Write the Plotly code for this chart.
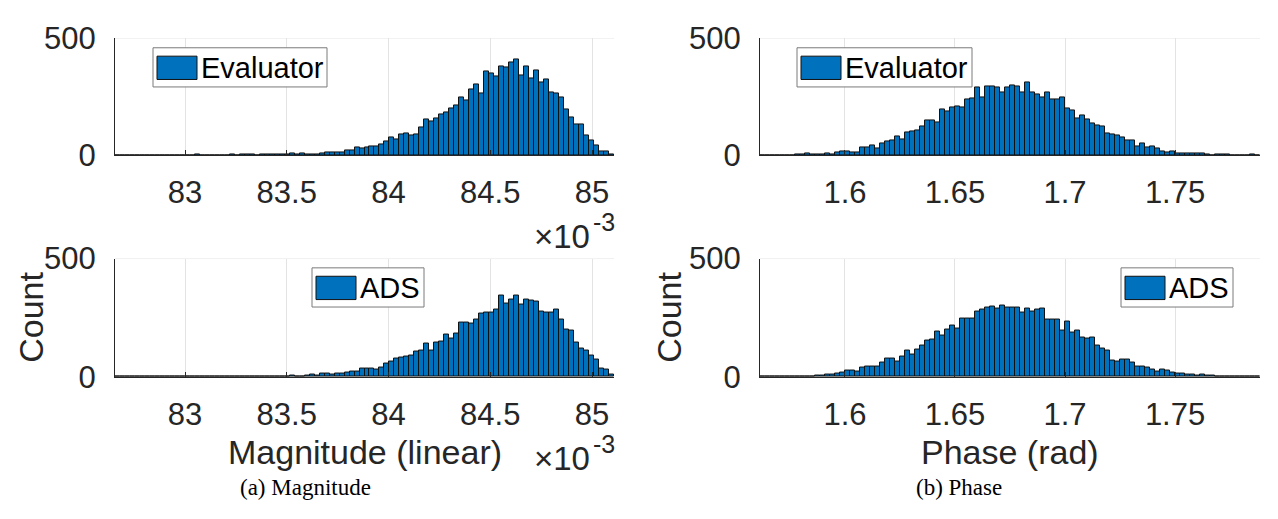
import numpy as np
import plotly.graph_objects as go

# Histogram counts (100 equal-width bins per panel)
mag_eval_counts = [
    0, 0, 0, 0, 0, 0, 0, 0, 0, 0,
    0, 0, 0, 0, 0, 0, 2, 0, 0, 0,
    0, 0, 0, 1, 0, 1, 3, 1, 0, 2,
    1, 2, 2, 3, 3, 7, 3, 7, 4, 4,
    4, 8, 11, 13, 12, 12, 20, 20, 32, 28,
    34, 35, 37, 44, 58, 74, 66, 87, 94, 84,
    90, 118, 151, 142, 158, 174, 182, 198, 212, 245,
    232, 281, 302, 265, 359, 352, 339, 382, 375, 397,
    409, 343, 378, 328, 362, 310, 326, 268, 264, 248,
    196, 161, 131, 131, 82, 64, 40, 17, 17, 4,
]
mag_ads_counts = [
    0, 0, 0, 0, 0, 0, 0, 0, 0, 0,
    0, 0, 0, 1, 0, 0, 1, 0, 0, 1,
    0, 1, 0, 0, 1, 1, 0, 1, 1, 2,
    1, 2, 1, 2, 3, 4, 3, 1, 7, 11,
    7, 13, 13, 11, 14, 13, 20, 22, 25, 37,
    34, 37, 30, 41, 57, 66, 79, 83, 86, 89,
    109, 113, 142, 113, 146, 151, 179, 164, 184, 230,
    230, 224, 241, 266, 271, 274, 284, 343, 311, 326,
    342, 305, 326, 324, 320, 276, 271, 274, 283, 241,
    201, 195, 145, 120, 113, 89, 74, 37, 30, 12,
]
phase_eval_counts = [
    0, 0, 0, 0, 0, 0, 0, 1, 1, 7,
    3, 4, 1, 5, 1, 11, 16, 16, 13, 13,
    34, 34, 43, 28, 51, 58, 63, 78, 68, 98,
    100, 107, 122, 149, 149, 138, 194, 189, 202, 210,
    205, 237, 243, 289, 248, 295, 295, 291, 269, 291,
    299, 296, 267, 310, 269, 261, 245, 267, 239, 239,
    245, 198, 192, 157, 168, 151, 137, 127, 123, 94,
    88, 84, 75, 64, 64, 38, 48, 31, 36, 28,
    17, 12, 17, 7, 8, 5, 7, 7, 7, 4,
    0, 3, 1, 1, 0, 0, 0, 0, 1, 0,
]
phase_ads_counts = [
    0, 0, 0, 0, 0, 0, 1, 0, 1, 1,
    3, 4, 5, 11, 9, 13, 20, 26, 26, 24,
    38, 43, 46, 46, 59, 76, 76, 67, 87, 113,
    96, 116, 133, 153, 157, 192, 175, 200, 218, 204,
    247, 247, 247, 276, 283, 293, 299, 287, 300, 292,
    292, 292, 270, 287, 276, 283, 287, 243, 243, 243,
    197, 232, 188, 195, 167, 161, 168, 133, 121, 112,
    70, 67, 74, 74, 61, 42, 42, 39, 33, 24,
    30, 28, 20, 14, 16, 11, 9, 7, 9, 5,
    4, 2, 1, 1, 1, 0, 0, 1, 0, 0,
]

# Sample range covered by the bins of each quantity
mag_range = [0.082656, 0.085108]
phase_range = [1.5614, 1.7886]

mag_tickvals = [0.083, 0.0835, 0.084, 0.0845, 0.085]
mag_ticktext = ["83", "83.5", "84", "84.5", "85"]
phase_tickvals = [1.6, 1.65, 1.7, 1.75]
phase_ticktext = ["1.6", "1.65", "1.7", "1.75"]
count_tickvals = [0, 500]
count_range = [0, 500]

series_names = ["Evaluator", "ADS"]
x_titles = ["Magnitude (linear)", "Phase (rad)"]
captions = ["(a) Magnitude", "(b) Phase"]

W, H = 1278, 519
BAR_COLOR = "#0072BD"
AX_COLOR = "#262626"
GRID_COLOR = "#E3E3E3"
SANS = "Liberation Sans, Arial, Helvetica, sans-serif"
SERIF = "Liberation Serif, DejaVu Serif, serif"


def px_x(p):
    return p / W


def px_y(p):
    return 1 - p / H


# Axes boxes in pixels: (left, right, top, bottom)
boxes = {
    "tl": (115, 614, 23, 148),
    "tr": (760, 1260, 23, 148),
    "bl": (115, 614, 259, 386),
    "br": (760, 1260, 259, 386),
}


def bins(rng, n):
    edges = np.linspace(rng[0], rng[1], n + 1)
    return (edges[:-1] + edges[1:]) / 2, edges[1] - edges[0]


panels = [
    # key, axis suffix, counts, range, ticks, ticktext, series name
    ("tl", "", mag_eval_counts, mag_range, mag_tickvals, mag_ticktext, series_names[0]),
    ("tr", "2", phase_eval_counts, phase_range, phase_tickvals, phase_ticktext, series_names[0]),
    ("bl", "3", mag_ads_counts, mag_range, mag_tickvals, mag_ticktext, series_names[1]),
    ("br", "4", phase_ads_counts, phase_range, phase_tickvals, phase_ticktext, series_names[1]),
]

fig = go.Figure()
layout = dict(
    width=W, height=H,
    margin=dict(l=0, r=0, t=0, b=0),
    paper_bgcolor="white", plot_bgcolor="white",
    bargap=0, showlegend=False,
    font=dict(family=SANS, color=AX_COLOR),
)
shapes = []
annotations = []

for key, suf, counts, rng, tv, tt, name in panels:
    l, r, t, b = boxes[key]
    centers, width = bins(rng, len(counts))
    fig.add_trace(go.Bar(
        x=centers, y=counts, width=width, name=name,
        marker=dict(color=BAR_COLOR, line=dict(color="#111111", width=1)),
        xaxis="x" + suf, yaxis="y" + suf,
    ))
    layout["xaxis" + suf] = dict(
        domain=[px_x(l), px_x(r)], anchor="y" + suf, range=rng,
        tickvals=tv, ticktext=tt, ticks="inside", ticklen=5, tickwidth=1,
        tickcolor=AX_COLOR, showline=True, linecolor=AX_COLOR, linewidth=1,
        showgrid=True, gridcolor=GRID_COLOR, gridwidth=1, zeroline=False,
        tickfont=dict(size=31, color=AX_COLOR, family=SANS),
        ticklabelstandoff=10,
    )
    layout["yaxis" + suf] = dict(
        domain=[px_y(b), px_y(t)], anchor="x" + suf, range=count_range,
        tickvals=count_tickvals, ticks="inside", ticklen=5, tickwidth=1,
        tickcolor=AX_COLOR, showline=True, linecolor=AX_COLOR, linewidth=1,
        showgrid=True, gridcolor=GRID_COLOR, gridwidth=1, zeroline=False,
        tickfont=dict(size=31, color=AX_COLOR, family=SANS),
        ticklabelstandoff=12,
    )
    # horizontal grid line along the top count tick
    shapes.append(dict(type="line", xref=("x" + suf) + " domain", yref="y" + suf,
                       x0=0, x1=1, y0=count_range[1], y1=count_range[1],
                       line=dict(color=GRID_COLOR, width=1), layer="below"))

# Legend boxes: (panel, box left, box right, text)
legend_specs = [
    ("tl", 153, 327, series_names[0]),
    ("tr", 797, 972, series_names[0]),
    ("bl", 312, 424, series_names[1]),
    ("br", 1121, 1233, series_names[1]),
]
for key, bl_, br_, text in legend_specs:
    top = boxes[key][2] + 10
    bot = top + 42
    shapes.append(dict(type="rect", xref="paper", yref="paper",
                       x0=px_x(bl_), x1=px_x(br_), y0=px_y(bot), y1=px_y(top),
                       line=dict(color="#7A7A7A", width=1), fillcolor="white", layer="above"))
    shapes.append(dict(type="rect", xref="paper", yref="paper",
                       x0=px_x(bl_ + 4), x1=px_x(bl_ + 44), y0=px_y(top + 34), y1=px_y(top + 9),
                       line=dict(color="#111111", width=1), fillcolor=BAR_COLOR, layer="above"))
    annotations.append(dict(text=text, xref="paper", yref="paper",
                            x=px_x(bl_ + 46), y=px_y(top + 22), xanchor="left", yanchor="middle",
                            showarrow=False, font=dict(size=29, color="#000000", family=SANS)))

# Exponent labels (x10 with raised -3) on the magnitude axes
for key in ("tl", "bl"):
    l, r, t, b = boxes[key]
    annotations.append(dict(text="\u00d710", xref="paper", yref="paper",
                            x=px_x(r - 22), y=px_y(b + 87), xanchor="right", yanchor="middle",
                            showarrow=False, font=dict(size=33, color=AX_COLOR, family=SANS)))
    annotations.append(dict(text="-3", xref="paper", yref="paper",
                            x=px_x(r - 23), y=px_y(b + 72), xanchor="left", yanchor="middle",
                            showarrow=False, font=dict(size=25, color=AX_COLOR, family=SANS)))

# Axis titles
for key, title in (("bl", x_titles[0]), ("br", x_titles[1])):
    l, r, t, b = boxes[key]
    annotations.append(dict(text=title, xref="paper", yref="paper",
                            x=px_x((l + r) / 2), y=px_y(466), xanchor="center", yanchor="middle",
                            showarrow=False, font=dict(size=34, color=AX_COLOR, family=SANS)))
for key, xc in (("bl", 31), ("br", 669)):
    l, r, t, b = boxes[key]
    annotations.append(dict(text="Count", xref="paper", yref="paper", textangle=-90,
                            x=px_x(xc), y=px_y((t + b) / 2), xanchor="center", yanchor="middle",
                            showarrow=False, font=dict(size=34, color=AX_COLOR, family=SANS)))

# Sub-figure captions
for xc, cap in ((305, captions[0]), (959, captions[1])):
    annotations.append(dict(text=cap, xref="paper", yref="paper",
                            x=px_x(xc), y=px_y(505), xanchor="center", yanchor="middle",
                            showarrow=False, font=dict(size=23, color="#000000", family=SERIF)))

layout["shapes"] = shapes
layout["annotations"] = annotations
fig.update_layout(**layout)
fig.write_html("out.html")
